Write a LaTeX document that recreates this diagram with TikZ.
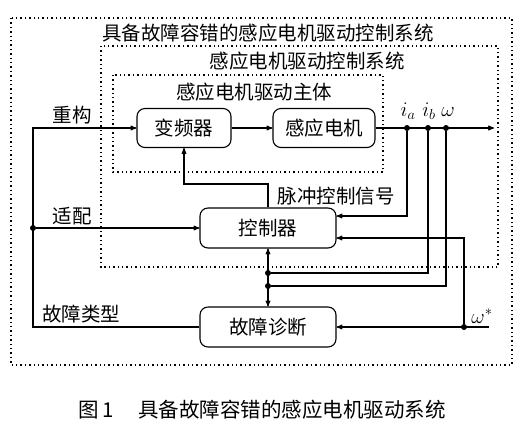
\documentclass[tikz,border=0pt]{standalone}
\usepackage{fontspec}
\newfontfamily\cjk{Noto Sans CJK SC}
\usepackage{amsmath,amssymb}
\usetikzlibrary{arrows, calc}

\tikzset{
    blockbox/.style={draw, rounded corners=8pt, line width=1.1pt, minimum height=39pt},
    sysframe/.style={line width=1.2pt, dash pattern=on 1.4pt off 3pt},
    joint/.style={circle, fill=black, inner sep=0pt, minimum size=6pt},
    sig/.style={line width=1.1pt, -stealth'},
}

\begin{document}
\begin{tikzpicture}[x=1pt, y=-1pt, font=\cjk\fontsize{19.5}{21}\selectfont]
        \useasboundingbox[fill=white] (0,0) rectangle (526,437);

        % dotted frames
        \draw[sysframe] (11,18) rectangle (512,365);
        \draw[sysframe] (101,46) rectangle (498,267);
        \draw[sysframe] (113,75) rectangle (383,172);
        \node (tOuter) at (268,33) {具备故障容错的感应电机驱动控制系统};
        \node (tMid) at (307,61) {感应电机驱动控制系统};
        \node (tIn) at (254,92) {感应电机驱动主体};

        % blocks
        \node[blockbox, minimum width=94pt] (inv) at (184,128) {变频器};
        \node[blockbox, minimum width=102pt] (motor) at (324,128) {感应电机};
        \node[blockbox, minimum width=136pt, minimum height=40pt] (ctrl) at (268,228) {控制器};
        \node[blockbox, minimum width=136pt, minimum height=40pt] (diag) at (268,327) {故障诊断};

        % measurement points
        \node[joint] (ia) at (407,128) {};
        \node[joint] (ib) at (428,128) {};
        \node[joint] (w) at (446,128) {};
        \node[joint] (adapt) at (33,228) {};
        \node[joint] (wstar) at (464,327) {};
        \node[joint] (jb) at (268,273) {};
        \node[joint] (jw) at (268,286) {};
        \node (lia) at (408,111) {$i_a$};
        \node (lib) at (429,111) {$i_b$};
        \node (lw) at (448,112) {$\omega$};
        \node (lws) at (482,316) {$\omega^*$};

        \coordinate (out) at (494,128);
        \coordinate (lefttop) at (33,128);
        \coordinate (win) at (489,327);
        \coordinate (fbturn) at (268,184);
        \coordinate (iaturn) at (407,216);
        \coordinate (wsturn) at (464,238);

        % signal lines
        \draw[sig] (inv) -- (motor);
        \draw[sig] (motor) -- (out);
        \draw[sig] (diag.west) -| (lefttop) -- (inv.west);
        \draw[sig] (adapt) -- (ctrl.west);
        \draw[sig] (ctrl.north) -- (fbturn) -| (inv.south);
        \draw[sig] (ia) -- (iaturn) -- (iaturn -| ctrl.east);
        \draw[sig] (wstar) -- (wsturn) -- (wsturn -| ctrl.east);
        \draw[line width=1.1pt] (ib) |- (jb);
        \draw[line width=1.1pt] (w) |- (jw);
        \draw[line width=1.1pt, stealth'-stealth'] (ctrl) -- (diag);
        \draw[sig] (win) -- (diag.east);

        \node (lRe) at (72,115) {重构};
        \node (lAd) at (72,216) {适配};
        \node (lFt) at (81,314) {故障类型};
        \node (lPu) at (336,196) {脉冲控制信号};

        \node[font=\cjk\fontsize{20.5}{22}\selectfont] (cap) at (262,410) {图\,1\hspace{1.2em}具备故障容错的感应电机驱动系统};
\end{tikzpicture}
\end{document}
